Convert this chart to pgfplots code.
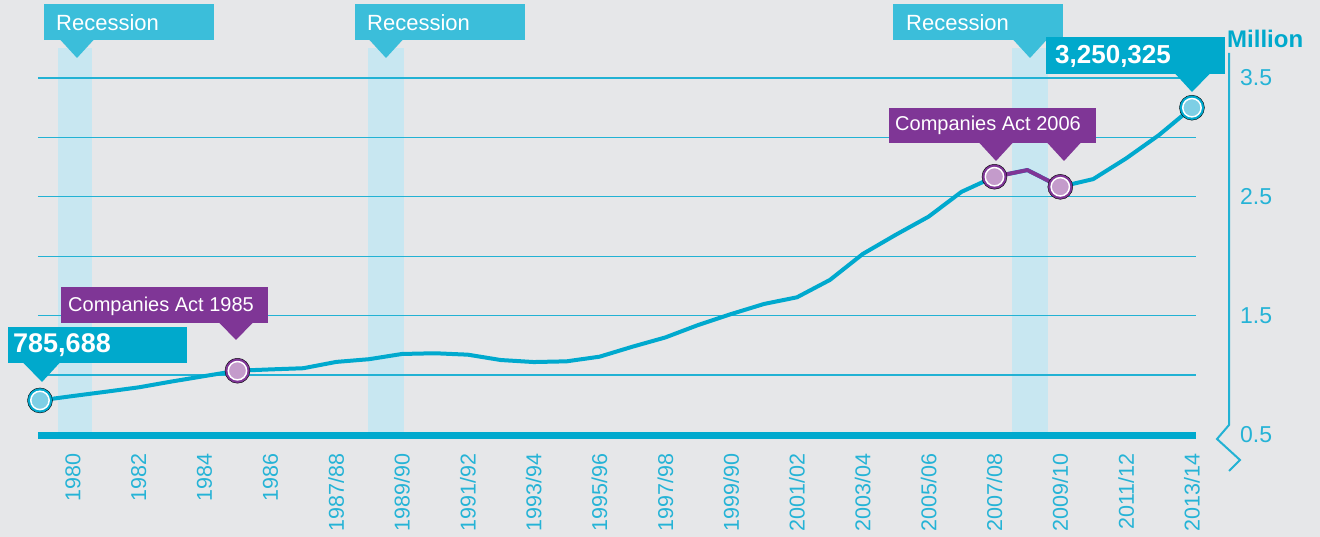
\documentclass[border=0pt]{standalone}
\usepackage{fontspec}
\setmainfont{Liberation Sans}
\usepackage{pgfplots}
\pgfplotsset{compat=1.18}
\definecolor{bg}{HTML}{E6E7E9}
\definecolor{linec}{HTML}{00A9CE}
\definecolor{gridc}{HTML}{22B2D4}
\definecolor{bandc}{HTML}{C8E7F1}
\definecolor{recc}{HTML}{3BBEDA}
\definecolor{valc}{HTML}{00A9CC}
\definecolor{purp}{HTML}{7F3696}
\definecolor{purpfill}{HTML}{C49BCB}
\definecolor{cyanfill}{HTML}{7ECFE5}
\definecolor{tickc}{HTML}{25B3D6}

\pgfplotsset{
 base/.style={
  scale only axis, width=1157.9pt, height=386.1pt,
  xmin=-0.06, xmax=35.12, ymin=0.5, ymax=3.75,
  at={(38pt,102.6pt)}, anchor=south west,
  axis line style={draw=none}, major tick length=0pt, clip=false,
 }
}

\begin{document}
\begin{tikzpicture}
\useasboundingbox (0pt,0pt) rectangle (1320pt,537pt);
\fill[bg] (0pt,0pt) rectangle (1320pt,537pt);

% recession bands
\begin{axis}[base, xtick=\empty, ytick=\empty]
\addplot[fill=bandc, draw=none] coordinates {(0.547,0.5) (1.58,0.5) (1.58,3.75) (0.547,3.75)} -- cycle;
\addplot[fill=bandc, draw=none] coordinates {(9.965,0.5) (11.06,0.5) (11.06,3.75) (9.965,3.75)} -- cycle;
\addplot[fill=bandc, draw=none] coordinates {(29.53,0.5) (30.63,0.5) (30.63,3.75) (29.53,3.75)} -- cycle;
\end{axis}

\begin{axis}[base,
  xtick={1,3,...,35},
  xticklabels={1980,1982,1984,1986,1987/88,1989/90,1991/92,1993/94,1995/96,1997/98,1999/90,2001/02,2003/04,2005/06,2007/08,2009/10,2011/12,2013/14},
  xticklabel style={rotate=90, anchor=east, inner sep=0pt, text=tickc, font=\fontsize{21.5}{21.5}\selectfont},
  xticklabel shift=19pt,
  ytick={0.5,1,1.5,2,2.5,3,3.5},
  yticklabels={0.5,,1.5,,2.5,,3.5},
  yticklabel pos=right,
  yticklabel style={anchor=west, inner sep=0pt, xshift=44pt, text=tickc, font=\fontsize{23}{23}\selectfont},
  ymajorgrids, grid style={line width=1.2pt, gridc},
]
\draw[linec, line width=7pt] ([yshift=-1.1pt]axis cs:-0.06,0.5) -- ([yshift=-1.1pt]axis cs:35.12,0.5);
\addplot[linec, line width=4pt, line join=round] coordinates {
(0,0.786) (1,0.823) (2,0.859) (3,0.896) (4,0.945) (5,0.991) (6,1.036) (7,1.047)
(8,1.057) (9,1.110) (10,1.133) (11,1.177) (12,1.183) (13,1.171) (14,1.126) (15,1.109)
(16,1.115) (17,1.154) (18,1.238) (19,1.316) (20,1.421) (21,1.513) (22,1.598) (23,1.654)
(24,1.800) (25,2.019) (26,2.180) (27,2.333) (28,2.542) (29,2.669) (30,2.725) (31,2.584)
(32,2.649) (33,2.823) (34,3.020) (35,3.250)};
\addplot[purp, line width=4pt, line join=round] coordinates {(29,2.669) (30,2.725) (31,2.584)};
% markers
\addplot[only marks, mark=*, mark size=12.5pt, mark options={fill=linec, draw=none}] coordinates {(0,0.786) (35,3.250)};
\addplot[only marks, mark=*, mark size=9.2pt, mark options={fill=cyanfill, draw=white, line width=1.5pt}] coordinates {(0,0.786) (35,3.250)};
\addplot[only marks, mark=*, mark size=12.5pt, mark options={fill=purp, draw=none}] coordinates {(6,1.036) (29,2.669) (31,2.584)};
\addplot[only marks, mark=*, mark size=9.2pt, mark options={fill=purpfill, draw=white, line width=1.5pt}] coordinates {(6,1.036) (29,2.669) (31,2.584)};
\end{axis}

\begin{scope}[x=1pt,y=1pt]
% right axis with break
\draw[gridc, line width=2pt, line join=miter] (1229,484) -- (1229,112) -- (1217,98) -- (1240,77) -- (1229,66);
\node[anchor=base west, inner sep=0, font=\bfseries\fontsize{24}{24}\selectfont, text=valc] at (1227,489) {Million};

% Recession callouts
\fill[recc] (44,497) rectangle (214,533);
\fill[recc] (60,497.5) -- (94,497.5) -- (77,479) -- cycle;
\node[anchor=base west, inner sep=0, text=white, font=\fontsize{22}{22}\selectfont] at (56,506) {Recession};
\fill[recc] (355,497) rectangle (525,533);
\fill[recc] (369,497.5) -- (403,497.5) -- (386,479) -- cycle;
\node[anchor=base west, inner sep=0, text=white, font=\fontsize{22}{22}\selectfont] at (367,506) {Recession};
\fill[recc] (893,497) rectangle (1063,533);
\fill[recc] (1013,497.5) -- (1047,497.5) -- (1030,479) -- cycle;
\node[anchor=base west, inner sep=0, text=white, font=\fontsize{22}{22}\selectfont] at (906,506) {Recession};

% value callouts
\fill[valc] (8,174) rectangle (187,210);
\fill[valc] (23,174.5) -- (60,174.5) -- (42,155) -- cycle;
\node[anchor=base west, inner sep=0, text=white, font=\bfseries\fontsize{27}{27}\selectfont] at (13,184) {785,688};
\fill[valc] (1046,463) rectangle (1225,500);
\fill[valc] (1175,463.5) -- (1210,463.5) -- (1192,445) -- cycle;
\node[anchor=base west, inner sep=0, text=white, font=\bfseries\fontsize{26}{26}\selectfont] at (1055,473) {3,250,325};

% Companies Act callouts
\fill[purp] (61,214) rectangle (268,250);
\fill[purp] (219,214.5) -- (253,214.5) -- (236,197) -- cycle;
\node[anchor=base west, inner sep=0, text=white, font=\fontsize{20}{20}\selectfont] at (68,225) {Companies Act 1985};
\fill[purp] (889,394) rectangle (1096,429);
\fill[purp] (979,394.5) -- (1013,394.5) -- (996,376) -- cycle;
\fill[purp] (1047,394.5) -- (1081,394.5) -- (1064,376) -- cycle;
\node[anchor=base west, inner sep=0, text=white, font=\fontsize{20}{20}\selectfont] at (895,406) {Companies Act 2006};
\end{scope}
\end{tikzpicture}
\end{document}
